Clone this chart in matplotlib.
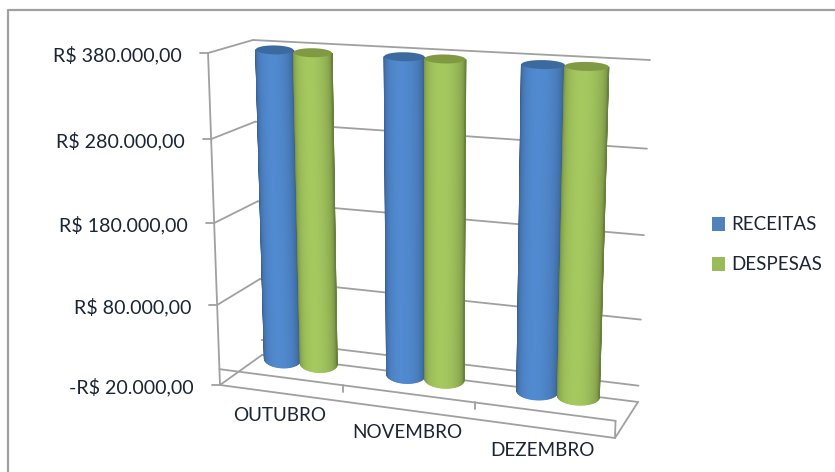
import numpy as np
import matplotlib
matplotlib.use("Agg")
import matplotlib.pyplot as plt
from matplotlib.patches import Polygon, Rectangle

# ---------------- Data ---------------- #
meses = ["OUTUBRO", "NOVEMBRO", "DEZEMBRO"]
receitas = [378000, 378000, 378000]
despesas = [377000, 378000, 378800]
valor_ticks = [-20000, 80000, 180000, 280000, 380000]
valor_labels = ["-R$ 20.000,00", "R$ 80.000,00", "R$ 180.000,00", "R$ 280.000,00", "R$ 380.000,00"]

W, H = 835, 472
TEXT = "#1c2536"
GRID = "#a0a0a0"

plt.rcParams["font.family"] = ["Lato", "DejaVu Sans"]

# floor of the 3d box in image pixels: (c, d) with c along months, d depth
base_corners = np.array([[220, 385], [615, 438], [638, 402], [262, 355]], dtype=float)
box_heights = [332, 360, 342, 315]  # same corner order
vanish = (432, 6263)  # the verticals meet far below the picture
VMIN, VMAX = valor_ticks[0], valor_ticks[-1]


def homography(dst):
    src = [(0, 0), (3, 0), (3, 1), (0, 1)]
    A, b = [], []
    for (u, v), (x, y) in zip(src, dst):
        A.append([u, v, 1, 0, 0, 0, -u * x, -v * x])
        A.append([0, 0, 0, u, v, 1, -u * y, -v * y])
        b += [x, y]
    return np.append(np.linalg.solve(np.array(A), np.array(b)), 1).reshape(3, 3)


H_BASE = homography(base_corners)


def project(c, d, v):
    t = (v - VMIN) / (VMAX - VMIN)
    t = t / (1 + 0.05 * (1 - t))  # value ticks are wider apart near the top
    q = H_BASE @ np.array([c, d, 1.0])
    x, y = q[:2] / q[2]
    u = c / 3
    h = (box_heights[0] * (1 - u) * (1 - d) + box_heights[1] * u * (1 - d)
         + box_heights[2] * u * d + box_heights[3] * (1 - u) * d)
    rise = h * t
    return np.array([x + (x - vanish[0]) * rise / (vanish[1] - y), y - rise])


def shade(base, t):
    # dark at the edges of the cylinder, lighter a bit left of the middle
    k = 0.64 + 0.42 * np.sin(np.pi * t ** 0.85) ** 0.8
    return tuple(np.clip(np.array(base) * k, 0, 1))


def cylinder(ax, c, d, v, radius, base_rgb, top_rgb, z):
    p0 = project(c, d, 0)
    p1 = project(c, d, v)
    r0 = (project(c + radius, d, 0) - p0) * [1, 0.3]
    r1 = (project(c + radius, d, v) - p1) * [1, 0.3]
    h0, h1 = 8.5, 4.5
    ts = np.linspace(np.pi, 2 * np.pi, 48)
    for a, b in zip(ts[:-1], ts[1:]):
        tt = (a - np.pi) / np.pi
        quad = [p1 + r1 * np.cos(a) - [0, h1 * np.sin(a)],
                p1 + r1 * np.cos(b) - [0, h1 * np.sin(b)],
                p0 + r0 * np.cos(b) - [0, h0 * np.sin(b)],
                p0 + r0 * np.cos(a) - [0, h0 * np.sin(a)]]
        col = shade(base_rgb, tt)
        ax.add_patch(Polygon(quad, closed=True, fc=col, ec=col, lw=0.8, zorder=z))
    tt = np.linspace(0, 2 * np.pi, 60)
    tampa = np.array([p1 + r1 * np.cos(a) + [0, h1 * np.sin(a)] for a in tt])
    ax.add_patch(Polygon(tampa, closed=True, fc=top_rgb, ec="none", zorder=z + 0.1))


fig = plt.figure(figsize=(W / 100, H / 100), dpi=100)
ax = fig.add_axes([0, 0, 1, 1])
ax.set_xlim(0, W)
ax.set_ylim(H, 0)
ax.axis("off")

# chart frame, only top and left are inside the picture
ax.plot([8, 8, W], [H, 10, 10], color="#a0a0a0", lw=1.6, zorder=0)


def linha(a, b, lw=1.3, z=1):
    ax.plot([a[0], b[0]], [a[1], b[1]], color=GRID, lw=lw, zorder=z, solid_capstyle="round")


# walls
for v, lab in zip(valor_ticks, valor_labels):
    fl, bl, br = project(0, 0, v), project(0, 1, v), project(3, 1, v)
    linha(fl, bl)
    linha(bl, br)
    linha(fl, fl - [8, 0])
    ax.text(fl[0] - 26, fl[1] + 2, lab, ha="right", va="center", fontsize=14.1, color=TEXT)
linha(project(0, 0, VMIN), project(0, 0, VMAX))
linha(project(0, 1, 0), project(3, 1, 0))

# floor and the category axis at zero
linha(project(0, 0, VMIN), project(3, 0, VMIN))
linha(project(3, 0, VMIN), project(3, 1, VMIN))
linha(project(0, 0, 0), project(3, 0, 0))
linha(project(3, 0, 0), project(3, 0, VMIN))
for i in range(1, 3):
    p = project(i, 0, 0)
    linha(p, p + [0, 7])

# bars
AZUL, AZUL_TOPO = (0.30, 0.51, 0.77), "#3c6a9f"
VERDE, VERDE_TOPO = (0.61, 0.74, 0.35), "#7f9a42"
for i in range(3):
    cylinder(ax, i + 0.35, 0.5, receitas[i], 0.15, AZUL, AZUL_TOPO, 2 + i)
    cylinder(ax, i + 0.65, 0.5, despesas[i], 0.15, VERDE, VERDE_TOPO, 2.5 + i)

# category labels
for i, m in enumerate(meses):
    p = project(i + 0.5, 0, VMIN)
    ax.text(p[0] - 1, p[1] + 22, m, ha="center", va="center", fontsize=13.6, color=TEXT)

# legend
ax.add_patch(Rectangle((712, 217), 13, 14, fc="#4f81bd", ec="none", zorder=5))
ax.add_patch(Rectangle((712, 257), 13, 14, fc="#9bbb59", ec="none", zorder=5))
ax.text(731, 224, "RECEITAS", ha="left", va="center", fontsize=13.5, color=TEXT)
ax.text(731, 264, "DESPESAS", ha="left", va="center", fontsize=13.5, color=TEXT)

fig.savefig("out.png", dpi=100)
